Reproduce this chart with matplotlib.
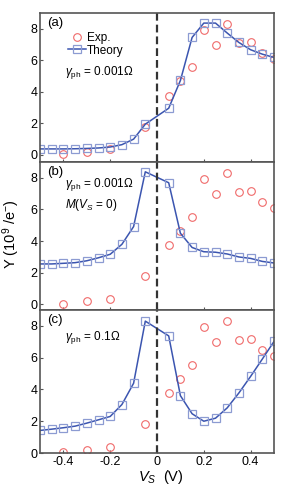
import matplotlib
matplotlib.use('Agg')
import matplotlib.pyplot as plt
import numpy as np

plt.rcParams['font.family'] = ['Liberation Sans', 'DejaVu Sans']
plt.rcParams['mathtext.fontset'] = 'custom'
plt.rcParams['mathtext.rm'] = 'Liberation Sans'
plt.rcParams['mathtext.it'] = 'Liberation Sans:italic'

# measured points (V_S in volts, Y in 1e9 / e-)
vs_exp = [-0.4, -0.3, -0.2, -0.05, 0.05, 0.1, 0.15, 0.2, 0.25, 0.3, 0.35, 0.4, 0.45, 0.5]
y_exp = [0.05, 0.2, 0.35, 1.8, 3.75, 4.67, 5.55, 7.95, 7.0, 8.28, 7.1, 7.18, 6.48, 6.1]

vs_th = [-0.5, -0.45, -0.4, -0.35, -0.3, -0.25, -0.2, -0.15, -0.1, -0.05,
         0.05, 0.1, 0.15, 0.2, 0.25, 0.3, 0.35, 0.4, 0.45, 0.5]
y_th_a = [0.38, 0.38, 0.38, 0.39, 0.41, 0.44, 0.5, 0.65, 1.0, 1.95,
          2.96, 4.72, 7.45, 8.36, 8.36, 7.73, 7.13, 6.67, 6.39, 6.18]
y_th_b = [2.56, 2.56, 2.6, 2.64, 2.76, 2.95, 3.17, 3.8, 4.92, 8.38,
          7.69, 4.5, 3.6, 3.33, 3.3, 3.19, 3.0, 2.91, 2.72, 2.62]
y_th_c = [1.42, 1.5, 1.59, 1.69, 1.88, 2.09, 2.3, 3.05, 4.39, 8.3,
          7.37, 3.61, 2.47, 2.0, 2.19, 2.84, 3.78, 4.82, 5.91, 7.02]

panels = [
    ('(a)', y_th_a, [r'$\gamma_{\rm ph}$ = 0.001$\Omega$'], [0.60], (-0.45, 9.0)),
    ('(b)', y_th_b, [r'$\gamma_{\rm ph}$ = 0.001$\Omega$', r'$M$($V_S$ = 0)'], [0.845, 0.71], (-0.35, 9.0)),
    ('(c)', y_th_c, [r'$\gamma_{\rm ph}$ = 0.1$\Omega$'], [0.81], (0.0, 9.0)),
]

fig = plt.figure(figsize=(2.97, 4.86), dpi=100)
W, H = 297.0, 486.0
left, right = 40 / W, 274 / W
edges = [(13, 162), (162, 310), (310, 453)]

red = '#f06a6a'
sq = '#8c9bd2'
line = '#3b55b0'

for i, (tag, y_th, notes, ypos, ylim) in enumerate(panels):
    top, bot = edges[i]
    ax = fig.add_axes([left, 1 - bot / H, right - left, (bot - top) / H])
    ax.plot(vs_exp, y_exp, 'o', mfc='none', mec=red, ms=5.5, mew=0.8, label='Exp.')
    ax.plot(vs_th, y_th, '-', color=line, lw=1.1, marker='s', mfc='none', mec=sq,
            ms=5.5, mew=0.9, label='Theory')
    ax.axvline(0, color='#333333', ls=(0, (3.5, 1.8)), lw=1.6)
    ax.set_xlim(-0.5, 0.5)
    ax.set_ylim(*ylim)
    ax.set_yticks([0, 2, 4, 6, 8])
    ax.set_xticks([-0.4, -0.2, 0, 0.2, 0.4])
    ax.tick_params(direction='in', length=2, labelsize=9, pad=2, color='#555555')
    for s in ax.spines.values():
        s.set_color('#555555')
        s.set_linewidth(1.2)
    if i < 2:
        ax.tick_params(labelbottom=False)
    else:
        ax.set_xticklabels(['-0.4', '-0.2', '0', '0.2', '0.4'])
    ax.text(0.03, 0.97, tag, transform=ax.transAxes, fontsize=9.5, va='top', ha='left')
    for t, yp in zip(notes, ypos):
        ax.text(0.105, yp, t, transform=ax.transAxes, fontsize=8.5, va='center', ha='left')
    if i == 0:
        ax.legend(loc='upper left', bbox_to_anchor=(0.09, 0.92), frameon=False,
                  fontsize=8.5, handlelength=1.5, handletextpad=0.1,
                  borderpad=0.1, labelspacing=0.05)

fig.text(161 / W, 1 - 477 / H, r'$V_S$  (V)', va='center', ha='center', fontsize=10.5)
fig.text(11 / W, 1 - 234 / H, r'Y (10$^9$ /e$^{-}$)', rotation=90, va='center', ha='center', fontsize=10.5)

fig.savefig('out.png', dpi=100)
